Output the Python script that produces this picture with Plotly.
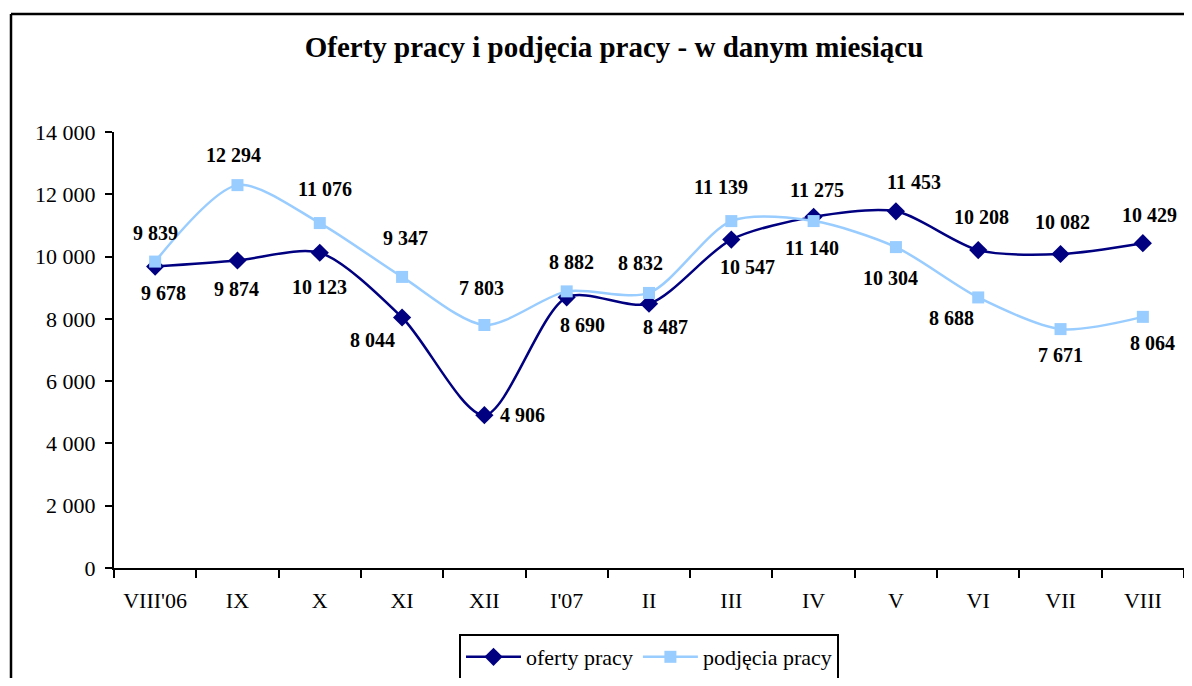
import plotly.graph_objects as go

months = ["VIII'06", "IX", "X", "XI", "XII", "I'07", "II", "III", "IV", "V", "VI", "VII", "VIII"]
oferty = [9678, 9874, 10123, 8044, 4906, 8690, 8487, 10547, 11275, 11453, 10208, 10082, 10429]
podjecia = [9839, 12294, 11076, 9347, 7803, 8882, 8832, 11139, 11140, 10304, 8688, 7671, 8064]

# label offsets in pixels (dx, dy on screen; dy positive = down)
of_dx = [8, -1, 0, -30, 38, 16, 16, 16, 3, 18, 3, 2, 7]
of_dy = [26, 28, 34, 23, 0, 28, 23, 27, -27, -29, -33, -32, -28]
po_dx = [0, -4, 5, 3, -3, 5, -9, -10, -2, -5, -27, 0, 10]
po_dy = [-29, -30, -34, -39, -37, -29, -30, -34, 27, 31, 21, 26, 26]

NAVY = "#000080"
LIGHT = "#99CCFF"
FONT = "Liberation Serif, Times New Roman, serif"

# page has an 8px body margin, so the figure is sized to fit inside it
W, H = 1176, 670
L, R, T, B = 106, 0, 124, 110
pw = W - L - R
ph = H - T - B


def fmt(v):
    return f"{v:,}".replace(",", " ")


fig = go.Figure()
fig.add_trace(go.Scatter(
    x=months, y=oferty, name="oferty pracy", mode="lines+markers",
    line=dict(color=NAVY, width=2.5, shape="spline", smoothing=0.8),
    marker=dict(symbol="diamond", size=14, color=NAVY),
))
fig.add_trace(go.Scatter(
    x=months, y=podjecia, name="podjęcia pracy", mode="lines+markers",
    line=dict(color=LIGHT, width=2.5, shape="spline", smoothing=0.8),
    marker=dict(symbol="square", size=12, color=LIGHT),
))

annotations = []
for i, m in enumerate(months):
    annotations.append(dict(x=m, y=oferty[i], text=fmt(oferty[i]), showarrow=False,
                            xshift=of_dx[i], yshift=-of_dy[i],
                            font=dict(family=FONT, size=20, color="black", weight="bold")))
    annotations.append(dict(x=m, y=podjecia[i], text=fmt(podjecia[i]), showarrow=False,
                            xshift=po_dx[i], yshift=-po_dy[i],
                            font=dict(family=FONT, size=20, color="black", weight="bold")))

# outer chart border: left and top edges visible, the rest runs off the page
bx = (3 - L) / pw
by = (H - B - 6) / ph
shapes = [
    dict(type="line", xref="paper", yref="paper", x0=bx, x1=bx, y0=by, y1=-1.0,
         line=dict(color="black", width=2.5)),
    dict(type="line", xref="paper", yref="paper", x0=bx, x1=1.2, y0=by, y1=by,
         line=dict(color="black", width=2.5)),
]

fig.update_layout(
    width=W, height=H,
    margin=dict(l=L, r=R, t=T, b=B, autoexpand=False),
    paper_bgcolor="white", plot_bgcolor="white",
    separators=", ",
    font=dict(family=FONT, size=22, color="black"),
    title=dict(text="<b>Oferty pracy i podjęcia pracy - w danym miesiącu</b>",
               x=606 / W, xanchor="center", xref="container",
               y=1 - 39 / H, yanchor="middle", yref="container",
               font=dict(family=FONT, size=29, color="black")),
    showlegend=True,
    legend=dict(orientation="h", x=0.5, xanchor="center", y=(H - B - 626) / ph, yanchor="top",
                bordercolor="black", borderwidth=2, bgcolor="white", itemwidth=55,
                font=dict(family=FONT, size=22, color="black")),
    annotations=annotations,
    shapes=shapes,
)
fig.update_xaxes(type="category", range=[-0.5, 12.5], showgrid=False, showline=True,
                 linecolor="black", linewidth=2,
                 ticks="outside", tickson="boundaries", ticklen=8, tickwidth=2, tickcolor="black",
                 ticklabelstandoff=12, tickfont=dict(family=FONT, size=22, color="black"))
fig.update_yaxes(range=[0, 14000], dtick=2000, tickformat=",d", showgrid=False, zeroline=False,
                 showline=True, linecolor="black", linewidth=2,
                 ticks="outside", ticklen=7, tickwidth=2, tickcolor="black",
                 ticklabelstandoff=5, tickfont=dict(family=FONT, size=22, color="black"))

fig.write_html("out.html")
